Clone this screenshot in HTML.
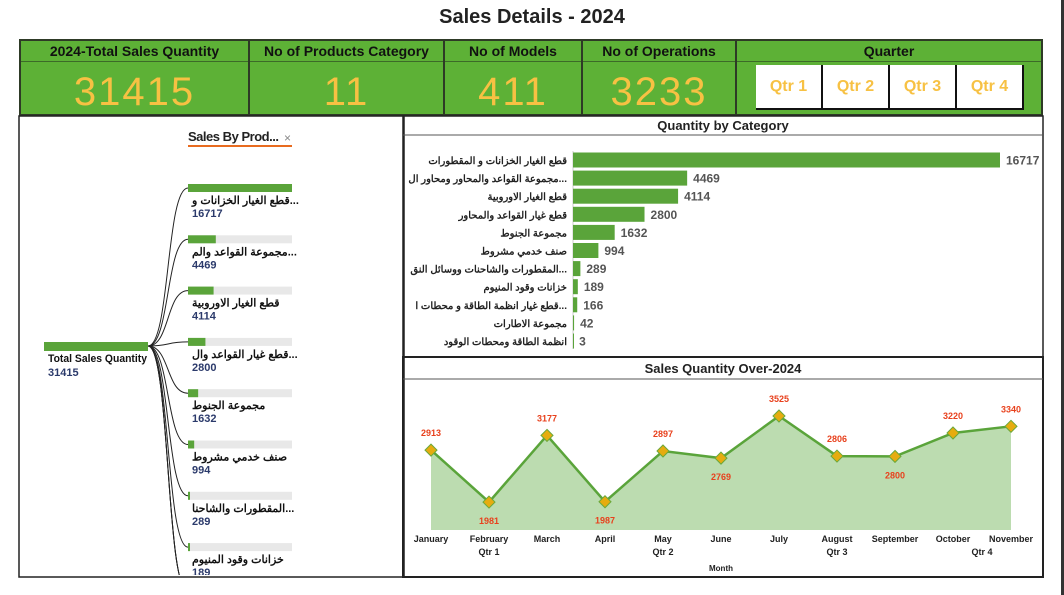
<!DOCTYPE html>
<html style="width:1064px;height:595px;overflow:hidden"><head><meta charset="utf-8"><style>
body{margin:0;width:1064px;height:595px;background:#fff;overflow:hidden;position:relative;font-family:"Liberation Sans","Noto Sans CJK SC",sans-serif}
.abs{position:absolute;box-sizing:border-box}
.card{background:#5db136;border:2px solid #2e3a26;top:39px;height:77px}
.card .h{position:absolute;left:0;right:0;top:0;height:20px;border-bottom:1px solid #3c6a28;text-align:center;font-weight:bold;font-size:14px;line-height:20px;color:#111}
.card .v{position:absolute;left:0;right:0;top:28px;text-align:center;font-size:40px;color:#f7c143;line-height:46px;letter-spacing:2px}
.q{position:absolute;top:24px;height:43px;width:65px;background:#fff;border-right:2px solid #111;border-bottom:2px solid #111;color:#f7c143;font-weight:bold;font-size:16px;text-align:center;line-height:43px}
</style></head><body>
<div class="abs" style="left:0;width:1064px;top:6px;text-align:center;font-weight:bold;font-size:20px;color:#222">Sales Details - 2024</div>
<div class="abs" style="left:1061px;top:0;width:3px;height:595px;background:#333"></div>
<div class="abs card" style="left:19px;width:231px"><div class="h">2024-Total Sales Quantity</div><div class="v">31415</div></div>
<div class="abs card" style="left:248px;width:197px"><div class="h">No of Products Category</div><div class="v">11</div></div>
<div class="abs card" style="left:443px;width:140px"><div class="h">No of Models</div><div class="v">411</div></div>
<div class="abs card" style="left:581px;width:156px"><div class="h">No of Operations</div><div class="v">3233</div></div>
<div class="abs card" style="left:735px;width:308px"><div class="h">Quarter</div>
<div class="q" style="left:19px">Qtr 1</div>
<div class="q" style="left:86px">Qtr 2</div>
<div class="q" style="left:153px">Qtr 3</div>
<div class="q" style="left:220px">Qtr 4</div></div>

<svg class="abs" style="left:0;top:0;display:block" width="1064" height="595" id="charts">
<g>
<rect x="19" y="116" width="385" height="461" fill="none" stroke="#222" stroke-width="1.5"/>
<text x="188" y="141" font-size="13" font-weight="bold" fill="#222" textLength="91">Sales By Prod...</text>
<text x="284" y="142" font-size="12" fill="#888">×</text>
<rect x="188" y="145" width="104" height="2" fill="#e86b1f"/>
<defs><clipPath id="tc"><rect x="19" y="116" width="385" height="459"/></clipPath></defs>
<g id="tree" clip-path="url(#tc)"></g>
</g>
<g>
<rect x="403" y="116" width="640" height="241" fill="none" stroke="#222" stroke-width="1.5"/>
<line x1="403" y1="135" x2="1043" y2="135" stroke="#555"/>
<text x="723" y="130" text-anchor="middle" font-size="13" font-weight="bold" fill="#222">Quantity by Category</text>
<g id="bars"></g>
</g>
<g>
<rect x="403" y="357" width="640" height="220" fill="none" stroke="#222" stroke-width="2"/>
<line x1="403" y1="379" x2="1043" y2="379" stroke="#555"/>
<text x="723" y="373" text-anchor="middle" font-size="13" font-weight="bold" fill="#222">Sales Quantity Over-2024</text>
<g id="line"></g>
<text x="721" y="571" text-anchor="middle" font-size="8" font-weight="bold" fill="#222">Month</text>
</g>
</svg>
<script>
const categories=["قطع الغيار الخزانات و المقطورات","مجموعة القواعد والمحاور ومحاور ال...","قطع الغيار الاوروبية","قطع غيار القواعد والمحاور","مجموعة الجنوط","صنف خدمي مشروط","المقطورات والشاحنات ووسائل النق...","خزانات وقود المنيوم","قطع غيار انظمة الطاقة و محطات ا...","مجموعة الاطارات","انظمة الطاقة ومحطات الوقود"];
const treeLabels=["قطع الغيار الخزانات و...","مجموعة القواعد والم...","قطع الغيار الاوروبية","قطع غيار القواعد وال...","مجموعة الجنوط","صنف خدمي مشروط","المقطورات والشاحنا...","خزانات وقود المنيوم","قطع غيار انظمة...","مجموعة الاطارات","انظمة الطاقة..."];
const quantities=[16717,4469,4114,2800,1632,994,289,189,166,42,3];
const totalQty=31415;
const months=["January","February","March","April","May","June","July","August","September","October","November"];
const monthly=[2913,1981,3177,1987,2897,2769,3525,2806,2800,3220,3340];
const quarterLabels=["Qtr 1","Qtr 2","Qtr 3","Qtr 4"];
const quarterMonthIdx=[1,4,7,9.5];
const labelAbove=[true,false,true,false,true,false,true,true,false,true,true];

const NS="http://www.w3.org/2000/svg";
function mk(p,t,a){const e=document.createElementNS(NS,t);for(const k in a)e.setAttribute(k,a[k]);p.appendChild(e);return e;}
const F='"Liberation Sans","Noto Sans CJK SC",sans-serif';

const bars=document.getElementById('bars');
const maxQ=Math.max(...quantities);
const bx=v=>573+v/maxQ*427;
const by=i=>160+i*18.1;
mk(bars,'line',{x1:573,y1:151,x2:573,y2:349,stroke:'#aaa','stroke-width':0.6});
quantities.forEach((v,i)=>{
  const r=mk(bars,'rect',{x:573,y:by(i)-7.5,width:Math.max(bx(v)-573,1),height:15,fill:'#5aa43a'});
  
  
  const l=mk(bars,'text',{x:567,y:by(i)+4,'text-anchor':'end','font-size':10,'font-weight':'bold',fill:'#222','font-family':F});
  l.textContent=categories[i];
  
  
  const t=mk(bars,'text',{x:bx(v)+6,y:by(i)+4.5,'font-size':12,'font-weight':'bold',fill:'#555','font-family':F});
  t.textContent=v;
  
  
});

const tree=document.getElementById('tree');
const rootBar=mk(tree,'rect',{x:44,y:342,width:104,height:9,fill:'#5aa43a'});


const rl=mk(tree,'text',{x:48,y:362,'font-size':11,'font-weight':'bold',fill:'#111',textLength:99,lengthAdjust:'spacingAndGlyphs'});rl.textContent='Total Sales Quantity';


const rv=mk(tree,'text',{x:48,y:376,'font-size':11,'font-weight':'bold',fill:'#2b3a6b'});rv.textContent=totalQty;


quantities.forEach((v,i)=>{
  const y=184+i*51.3;
  const ye=Math.min(y+4,592);
  mk(tree,'path',{d:`M148 346 C170 346 166 ${ye} 188 ${ye}`,fill:'none',stroke:'#222','stroke-width':1});
  if(y>575) return;
  mk(tree,'rect',{x:188,y:y,width:104,height:8,fill:'#e8e8e8'});
  const b=mk(tree,'rect',{x:188,y:y,width:Math.max(v/maxQ*104,2),height:8,fill:'#5aa43a'});
  
  
  const l=mk(tree,'text',{x:192,y:y+20,'font-size':11,'font-weight':'bold',fill:'#111','font-family':F});l.textContent=treeLabels[i];
  
  
  const t=mk(tree,'text',{x:192,y:y+33,'font-size':11,'font-weight':'bold',fill:'#2b3a6b'});t.textContent=v;
  
  
});

const lg=document.getElementById('line');
const yMin=1480,yMax=3525;
const lx=i=>431+i*58;
const ly=v=>530-(v-yMin)/(yMax-yMin)*114;
let pts=monthly.map((v,i)=>lx(i)+','+ly(v)).join(' ');
const area=mk(lg,'polygon',{points:`${lx(0)},530 ${pts} ${lx(monthly.length-1)},530`,fill:'#bcdcb0'});


const pl=mk(lg,'polyline',{points:pts,fill:'none',stroke:'#5aa43a','stroke-width':2.5});


monthly.forEach((v,i)=>{
  const x=lx(i),y=ly(v);
  const d=mk(lg,'polygon',{points:`${x},${y-6} ${x+6},${y} ${x},${y+6} ${x-6},${y}`,fill:'#e6ac10',stroke:'#6aa83a','stroke-width':1});
  
  
  const t=mk(lg,'text',{x:x,y:labelAbove[i]?y-14:y+22,'text-anchor':'middle','font-size':9,'font-weight':'bold',fill:'#e8401c'});
  t.textContent=v;
  
  
  const m=mk(lg,'text',{x:x,y:542,'text-anchor':'middle','font-size':9,'font-weight':'bold',fill:'#222'});
  m.textContent=months[i];
  
  
});
quarterLabels.forEach((q,i)=>{
  const t=mk(lg,'text',{x:lx(quarterMonthIdx[i]),y:555,'text-anchor':'middle','font-size':9,'font-weight':'bold',fill:'#222'});
  t.textContent=q;
  
  
});
</script>
</body></html>
